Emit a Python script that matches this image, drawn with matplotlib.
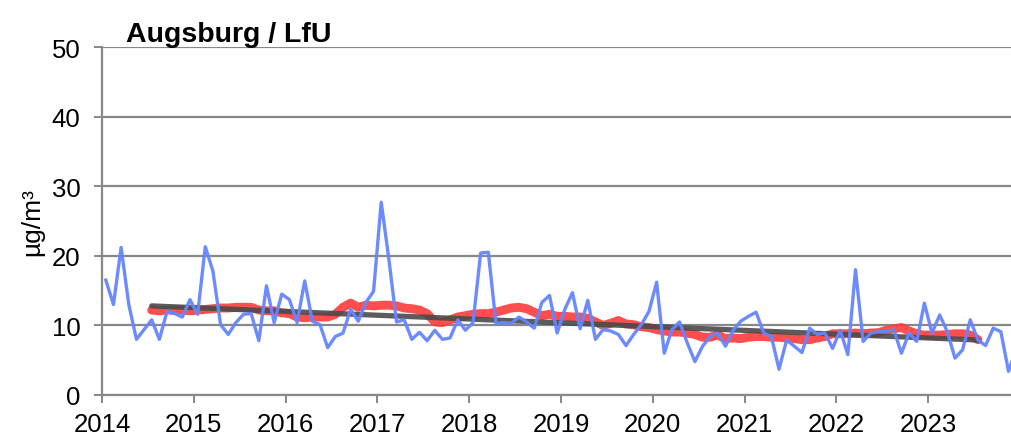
import numpy as np
import matplotlib
matplotlib.use("Agg")
import matplotlib.pyplot as plt

plt.rcParams["font.family"] = ["Liberation Sans", "DejaVu Sans"]

# monthly means Jan 2014 .. Dec 2023 (µg/m³)
monthly = [
    16.5, 13.0, 21.2, 13.0, 8.0, 9.4, 10.8, 8.0, 12.0, 11.7, 11.2, 13.7,
    11.6, 21.3, 17.8, 10.1, 8.7, 10.4, 11.6, 11.7, 7.8, 15.7, 10.4, 14.5,
    13.7, 10.4, 16.4, 10.6, 10.1, 6.8, 8.4, 8.9, 12.3, 10.6, 13.3, 14.9,
    27.7, 19.5, 10.5, 10.8, 8.0, 9.0, 7.8, 9.3, 8.0, 8.2, 10.8, 9.3,
    10.4, 20.4, 20.5, 10.3, 10.4, 10.3, 11.2, 10.5, 9.6, 13.3, 14.3, 8.9,
    12.3, 14.7, 9.5, 13.6, 8.0, 9.4, 9.2, 8.7, 7.1, 8.7, 10.1, 12.0,
    16.2, 6.0, 9.4, 10.5, 7.5, 4.8, 7.0, 8.4, 8.9, 7.0, 9.3, 10.6,
    11.3, 11.9, 8.9, 8.4, 3.7, 7.9, 7.0, 6.1, 9.6, 8.7, 8.9, 6.7,
    9.3, 5.8, 18.0, 7.7, 8.9, 9.1, 9.1, 9.4, 6.0, 8.9, 7.7, 13.2,
    8.9, 11.5, 9.1, 5.3, 6.5, 10.8, 7.9, 7.1, 9.6, 9.1, 3.4, 6.5,
]

# 12-month running mean, Jul 2014 .. Jul 2023
running_start = 6
running = [
    12.2, 12.1, 12.2, 12.2, 12.2, 12.1, 12.2, 12.3, 12.4, 12.5, 12.5, 12.6,
    12.6, 12.6, 12.2, 12.1, 12.1, 11.8, 11.7, 11.2, 11.1, 11.2, 11.2, 11.2,
    11.6, 12.6, 13.2, 12.6, 12.9, 12.8, 12.9, 12.9, 12.8, 12.5, 12.4, 12.2,
    11.7, 10.5, 10.4, 10.8, 11.2, 11.4, 11.6, 11.7, 11.7, 11.9, 12.2, 12.5,
    12.6, 12.4, 11.9, 11.4, 11.6, 11.3, 11.3, 11.2, 11.2, 11.0, 10.5, 10.0,
    10.3, 10.7, 10.2, 10.1, 9.8, 9.7, 9.4, 9.2, 9.05, 9.05, 8.9, 8.7,
    8.3, 8.3, 8.6, 8.1, 8.2, 8.1, 8.3, 8.4, 8.4, 8.3, 8.3, 8.2,
    8.1, 7.95, 7.95, 8.2, 8.4, 8.8, 8.8, 8.8, 8.9, 8.8, 8.9, 8.95,
    9.3, 9.5, 9.7, 9.2, 8.8, 8.6, 8.6, 8.6, 8.7, 8.8, 8.8, 8.6, 7.95,
]

# linear trend, start / end value
trend_months = [6, 114]
trend_values = [12.8, 7.9]

years = list(range(2014, 2024))
yticks = [0, 10, 20, 30, 40, 50]

def month_to_year(m):
    return 2014 + (np.asarray(m) + 0.5) / 12.0

x_month = month_to_year(np.arange(len(monthly)))
x_run = month_to_year(np.arange(running_start, running_start + len(running)))
x_trend = month_to_year(trend_months)

fig = plt.figure(figsize=(10.12, 4.39), dpi=100)
ax = fig.add_axes([102 / 1012, 1 - 396 / 439, 1 - 102 / 1012, (396 - 48) / 439])

grid_col = "#888888"
ax.plot(x_run, running, color="#ff3b3b", lw=6.4, alpha=0.9, zorder=3,
        solid_capstyle="round")
ax.plot(x_trend, trend_values, color="#4a4a4a", lw=3.8, alpha=0.9, zorder=4,
        solid_capstyle="round")
ax.plot(x_month, monthly, color="#6585ff", lw=2.4, alpha=0.95, zorder=5)

ax.set_xlim(2014, 2014 + (1014 - 102) / 92.0)
ax.set_ylim(0, 50)
ax.set_xticks(years)
ax.set_xticklabels([str(y) for y in years])
ax.set_yticks(yticks)
ax.yaxis.grid(True, color=grid_col, lw=1.6, zorder=0)
ax.set_axisbelow(True)

for side in ["top", "right"]:
    ax.spines[side].set_visible(False)
for side in ["left", "bottom"]:
    ax.spines[side].set_color(grid_col)
    ax.spines[side].set_linewidth(1.6)

ax.tick_params(axis="both", colors=grid_col, width=1.4, length=5.5,
               labelsize=18.5, labelcolor="black")
ax.tick_params(axis="y", pad=10)
ax.tick_params(axis="x", pad=7)

ax.set_ylabel("µg/m³", fontsize=19)
ax.yaxis.set_label_coords(-0.064, 0.5)

ax.text(0.026, 1 + 6 / 348, "Augsburg / LfU", transform=ax.transAxes,
        fontsize=20.5, fontweight="bold", ha="left", va="baseline")

fig.savefig("out.png", dpi=100)
